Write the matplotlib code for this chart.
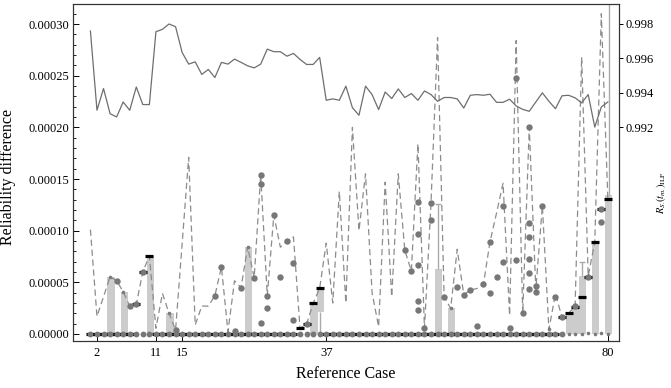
import numpy as np
import matplotlib.pyplot as plt
from matplotlib.ticker import MultipleLocator, FormatStrFormatter, FixedLocator

plt.rcParams['font.family'] = ['Liberation Serif', 'DejaVu Serif']
plt.rcParams['mathtext.fontset'] = 'stix'

cases = np.arange(1, 81)

# R_S(t_m) of the ILP solution, right axis
rel_ilp = [0.99759, 0.99299, 0.99425, 0.99279, 0.99260, 0.99347, 0.99299, 0.99434, 0.99332, 0.99332,
           0.99755, 0.99769, 0.99800, 0.99784, 0.99635, 0.99567, 0.99580, 0.99507, 0.99536, 0.99489,
           0.99577, 0.99567, 0.99596, 0.99577, 0.99557, 0.99545, 0.99567, 0.99654, 0.99639, 0.99639,
           0.99613, 0.99629, 0.99594, 0.99565, 0.99565, 0.99606, 0.99357, 0.99365, 0.99357, 0.99439,
           0.99314, 0.99270, 0.99439, 0.99390, 0.99303, 0.99405, 0.99367, 0.99423, 0.99373, 0.99396,
           0.99357, 0.99411, 0.99390, 0.99351, 0.99373, 0.99373, 0.99365, 0.99312, 0.99386, 0.99390,
           0.99386, 0.99392, 0.99345, 0.99345, 0.99363, 0.99324, 0.99304, 0.99293, 0.99347, 0.99400,
           0.99351, 0.99308, 0.99383, 0.99386, 0.99371, 0.99342, 0.99390, 0.99201, 0.99318, 0.99347]

# dashed series (x1e-5)
diff_max = [10.1, 1.7, 3.6, 5.54, 5.15, 4.09, 2.71, 2.87, 6.03, 7.54,
            0.55, 3.93, 2.0, 0.4, 8.7, 17.1, 0.87, 2.7, 2.7, 3.7,
            6.48, 0.22, 5.15, 4.48, 8.44, 5.45, 15.4, 3.7, 11.5, 8.4,
            9.0, 9.4, 0.55, 0.94, 2.97, 4.42, 8.8, 3.0, 13.8, 3.0,
            20.0, 10.0, 15.5, 4.0, 0.7, 14.7, 3.6, 15.5, 8.1, 6.1,
            18.4, 0.55, 12.7, 28.7, 3.6, 2.48, 8.2, 3.8, 4.25, 4.4,
            4.8, 8.9, 11.7, 14.6, 1.8, 28.4, 2.0, 20.0, 4.3, 12.4,
            0.45, 3.9, 1.6, 2.0, 2.7, 26.8, 5.6, 8.9, 31.0, 13.0]

# black marks (x1e-5)
diff_ilp = [0, 0, 0, 0, 0, 0, 0, 2.87, 6.03, 7.54,
            0, 0, 0, 0, 0, 0, 0, 0, 0, 0,
            0, 0, 0, 0, 0, 0, 0, 0, 0, 0,
            0, 0, 0.55, 0.94, 2.97, 4.42, 0, 0, 0, 0,
            0, 0, 0, 0, 0, 0, 0, 0, 0, 0,
            0, 0, 0, 0, 0, 0, 0, 0, 0, 0,
            0, 0, 0, 0, 0, 0, 0, 0, 0, 0,
            0, 0, 1.6, 2.0, 2.64, 3.6, 5.5, 8.93, 12.1, 13.05]

# grey points at zero, cases 1-73
zero_case = list(range(1, 74))
zero_val = [0] * 73

# grey points above zero (x1e-5)
dot_case = [5, 7, 8, 9, 14, 20, 21, 23, 24, 26, 27, 27, 27, 28, 28, 29, 30, 31, 32, 32, 34,
            49, 50, 51, 51, 51, 51, 51, 52, 53, 53, 55, 57, 58, 59, 60, 61, 62, 62, 63, 64, 64,
            65, 66, 66, 67, 68, 68, 68, 68, 68, 68, 69, 69, 70, 72, 73, 75, 77, 79, 79]
dot_val = [5.15, 2.71, 2.87, 6.03, 0.35, 3.7, 6.48, 0.3, 4.48, 5.45, 15.4, 14.5, 1.1, 3.7, 2.54,
           11.5, 5.54, 9.02, 6.9, 1.35, 0.94,
           8.1, 6.1, 12.8, 9.7, 6.7, 3.2, 2.3, 0.55, 12.7, 11.0, 3.6, 4.5, 3.77, 4.25, 0.8, 4.8,
           4.0, 8.9, 5.5, 12.4, 7.0, 0.55, 24.8, 7.2, 2.0, 20.0, 10.7, 9.4, 7.3, 5.9, 4.4,
           4.6, 4.1, 12.4, 3.6, 1.6, 2.7, 5.5, 12.1, 10.8]

# small grey points (x1e-5)
small_case = [4, 6, 13, 25, 56, 71, 74, 75, 76, 77, 78, 79, 80]
small_val = [5.54, 4.09, 2.0, 8.44, 2.48, 0.45, 0, 0, 0, 0.1, 0, 0.1, 0]

# bars (x1e-5)
bar_case = [4, 6, 10, 13, 25, 35, 36, 54, 56, 74, 75, 76, 78, 80]
bar_bottom = [0, 0, 0, 0, 0, 0, 2.16, 0, 0, 0, 0, 0, 0, 0]
bar_top = [5.54, 4.09, 7.54, 2.0, 8.44, 2.97, 4.42, 6.25, 2.48, 2.0, 2.8, 5.6, 8.93, 13.5]

# error lines (x1e-5)
err_case = [36, 54, 76, 80]
err_lo = [0, 6.25, 5.6, 13.5]
err_hi = [2.16, 12.6, 7.0, 40.0]
err_cap = [False, True, True, False]

s = 1e-5
fig = plt.figure(figsize=(6.71, 3.88), dpi=100)
ax = fig.add_axes([73 / 671, 1 - 341 / 388, 546 / 671, 337 / 388])

bb = np.array(bar_bottom)
ax.bar(np.array(bar_case) + 0.15, (np.array(bar_top) - bb) * s, width=1.1, bottom=bb * s,
       color='#cccccc', zorder=1)
ax.vlines(np.array(err_case) + 0.1, np.array(err_lo) * s, np.array(err_hi) * s,
          color='#aaaaaa', lw=1, zorder=1.5)
for c, h, cap in zip(err_case, err_hi, err_cap):
    if cap:
        ax.plot(c + 0.1, h * s, marker='_', ms=5, mew=1, color='#aaaaaa', zorder=1.5)

ax.plot(cases, np.array(diff_max) * s, ls=(0, (5, 3)), color='#8c8c8c', lw=0.9, zorder=2)
ax.plot(cases, np.array(diff_ilp) * s, ls='none', marker='_', ms=6, mew=2.3,
        color='black', zorder=3)
ax.plot(zero_case, zero_val, ls='none', marker='o', ms=4.2, color='#777777', mew=0, zorder=4)
ax.plot(dot_case, np.array(dot_val) * s, ls='none', marker='o', ms=4.6, color='#777777',
        mew=0, zorder=4)
ax.plot(small_case, np.array(small_val) * s, ls='none', marker='o', ms=2.6, color='#7a7a7a',
        mew=0, zorder=4)

ax.set_xlim(-1.66, 81.7)
ax.set_ylim(-0.0000068, 0.0003194)
ax.xaxis.set_major_locator(FixedLocator([2, 11, 15, 37, 80]))
ax.yaxis.set_major_locator(MultipleLocator(0.00005))
ax.yaxis.set_minor_locator(MultipleLocator(0.00001))
ax.yaxis.set_major_formatter(FormatStrFormatter('%.5f'))
ax.tick_params(axis='y', which='major', direction='in', length=4, width=0.7, labelsize=9, pad=3)
ax.tick_params(axis='y', which='minor', direction='in', length=2, width=0.6)
ax.tick_params(axis='x', direction='in', length=4, width=0.7, labelsize=9, pad=4)
for sp in ax.spines.values():
    sp.set_color('#333333')
    sp.set_linewidth(0.8)
ax.set_xlabel('Reference Case', fontsize=11.5)
ax.set_ylabel('Reliability difference', fontsize=11.5)
ax.yaxis.set_label_coords(-0.105, 0.487)
ax.xaxis.set_label_coords(0.5, -0.075)

ax2 = ax.twinx()
ax2.plot(cases, rel_ilp, color='#6e6e6e', lw=0.9, zorder=5)
ax2.set_ylim(0.97959, 0.99916)
ax2.yaxis.set_major_locator(FixedLocator([0.992, 0.994, 0.996, 0.998]))
ax2.yaxis.set_major_formatter(FormatStrFormatter('%.3f'))
ax2.tick_params(axis='y', direction='out', length=3, width=0.7, labelsize=9, pad=2)
for sp in ax2.spines.values():
    sp.set_color('#333333')
    sp.set_linewidth(0.8)
ax2.set_ylabel(r'$R_{S_{\cdot}}(t_{m_{\cdot}})_{\mathrm{ILP}}$', fontsize=7.5, rotation=90)
ax2.yaxis.set_label_coords(1.066, 0.44)

fig.savefig('out.png', dpi=100)
